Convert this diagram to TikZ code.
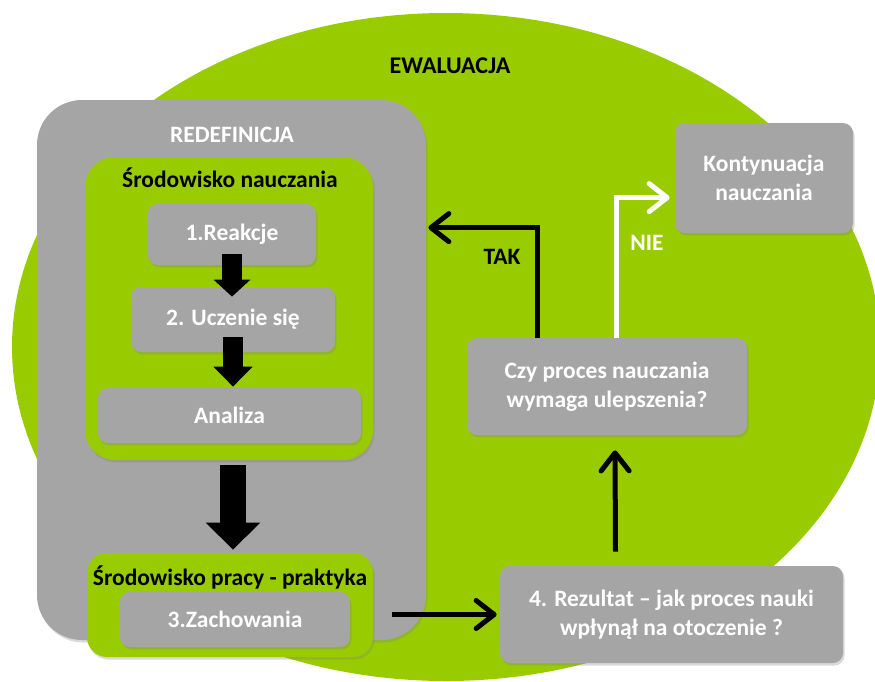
\documentclass[tikz,border=0pt]{standalone}
\usepackage{fontspec}
\setmainfont{Carlito}
\usetikzlibrary{arrows.meta,calc,shadows}

\definecolor{ewalgreen}{RGB}{153,204,0}
\definecolor{boxgray}{RGB}{165,165,165}

\tikzset{every picture/.style={line width=0.75pt}}
\tikzset{
  boxshadow/.style={drop shadow={shadow xshift=1.5pt, shadow yshift=-2.5pt, opacity=0.3}},
  graybox/.style={fill=boxgray, rounded corners=10, inner sep=0pt, align=center,
    text=white, font=\fontsize{23.5}{29}\selectfont\bfseries, boxshadow},
  greenbox/.style={fill=ewalgreen, rounded corners=30, inner sep=0pt, boxshadow},
  titletext/.style={font=\fontsize{23.5}{29}\selectfont\bfseries, inner sep=0pt},
  blockarrow/.style={draw=black, line width=#1},
  linkarrow/.style={line width=5, -{Straight Barb[length=18pt, width=28pt, round]}},
}

\begin{document}
\begin{tikzpicture}[x=1pt,y=1pt,yscale=-1,xscale=1]
\useasboundingbox (0,0) rectangle (875,681);

%Shape: Ellipse
\fill[ewalgreen] (446,347) ellipse [x radius=434, y radius=334];

%Shape: Rounded Rect (redefinicja)
\node[graybox, rounded corners=45, minimum width=389, minimum height=540] (redefbox) at (231.5,370) {};
\node[greenbox, minimum width=288, minimum height=303] (naukabox) at (229,308.5) {};
\node[greenbox, rounded corners=20, minimum width=286, minimum height=104] (pracabox) at (230,605) {};

% Text Node
\node[titletext, font=\fontsize{24}{29}\selectfont\bfseries] (ewal) at (450,66) {EWALUACJA};
\node[titletext, text=white] (redef) at (232,135) {REDEFINICJA};
\node[titletext] (srodnauka) at (230,178) {Środowisko nauczania};
\node[titletext] (srodpraca) at (230,577) {Środowisko pracy - praktyka};

%Shape: Rounded Rect
\node[graybox, minimum width=168, minimum height=61] (reakcje) at (232,234.5) {1.Reakcje};
\node[graybox, minimum width=204, minimum height=65] (uczenie) at (233,319.5) {2. Uczenie się};
\node[graybox, minimum width=263, minimum height=55] (analiza) at (229.5,415.5) {Analiza};
\node[graybox, minimum width=230, minimum height=55] (zachowania) at (235,619.5) {3.Zachowania};
\node[graybox, minimum width=343, minimum height=97] (rezultat) at (671.5,614.5) {4. Rezultat – jak proces nauki\\wpłynął na otoczenie ?};
\node[graybox, minimum width=280, minimum height=97] (pytanie) at (607,386.5) {Czy proces nauczania\\wymaga ulepszenia?};
\node[graybox, minimum width=178, minimum height=110] (kontynuacja) at (764,178) {Kontynuacja\\nauczania};

%Block arrows
\draw[blockarrow=20, -{Triangle[length=17pt, width=36pt]}] ($(reakcje.south)+(0,-11)$) -- ($(reakcje.south |- uczenie.north)+(0,10)$);
\draw[blockarrow=20, -{Triangle[length=20pt, width=38pt]}] ($(uczenie.south)+(0,-15)$) -- ($(uczenie.south |- analiza.north)+(0,-1)$);
\draw[blockarrow=26, -{Triangle[length=27pt, width=53pt]}] ($(naukabox.south)+(4,5)$) -- ($(naukabox.south |- pracabox.north)+(4,-3)$);

%Connectors
\coordinate (takbend) at ($(pytanie.north)+(-70,-110)$);
\coordinate (niebend) at ($(pytanie.north)+(9,-140)$);
\draw[linkarrow] ($(redefbox.east |- rezultat.west)+(-34,0)$) -- ($(rezultat.west)+(-3,0)$);
\draw[linkarrow] ($(rezultat.north)+(-56,-14)$) -- ($(pytanie.south)+(8,15)$);
\draw[linkarrow] ($(pytanie.north)+(-70,0)$) -- (takbend) -- ($(redefbox.east |- takbend)+(2,0)$);
\draw[linkarrow, white] ($(pytanie.north)+(9,0)$) -- (niebend) -- ($(kontynuacja.west |- niebend)+(-5,0)$);

% Text Node
\node[titletext] (tak) at (502,257) {TAK};
\node[titletext, text=white] (nie) at (647,243) {NIE};

\end{tikzpicture}
\end{document}
